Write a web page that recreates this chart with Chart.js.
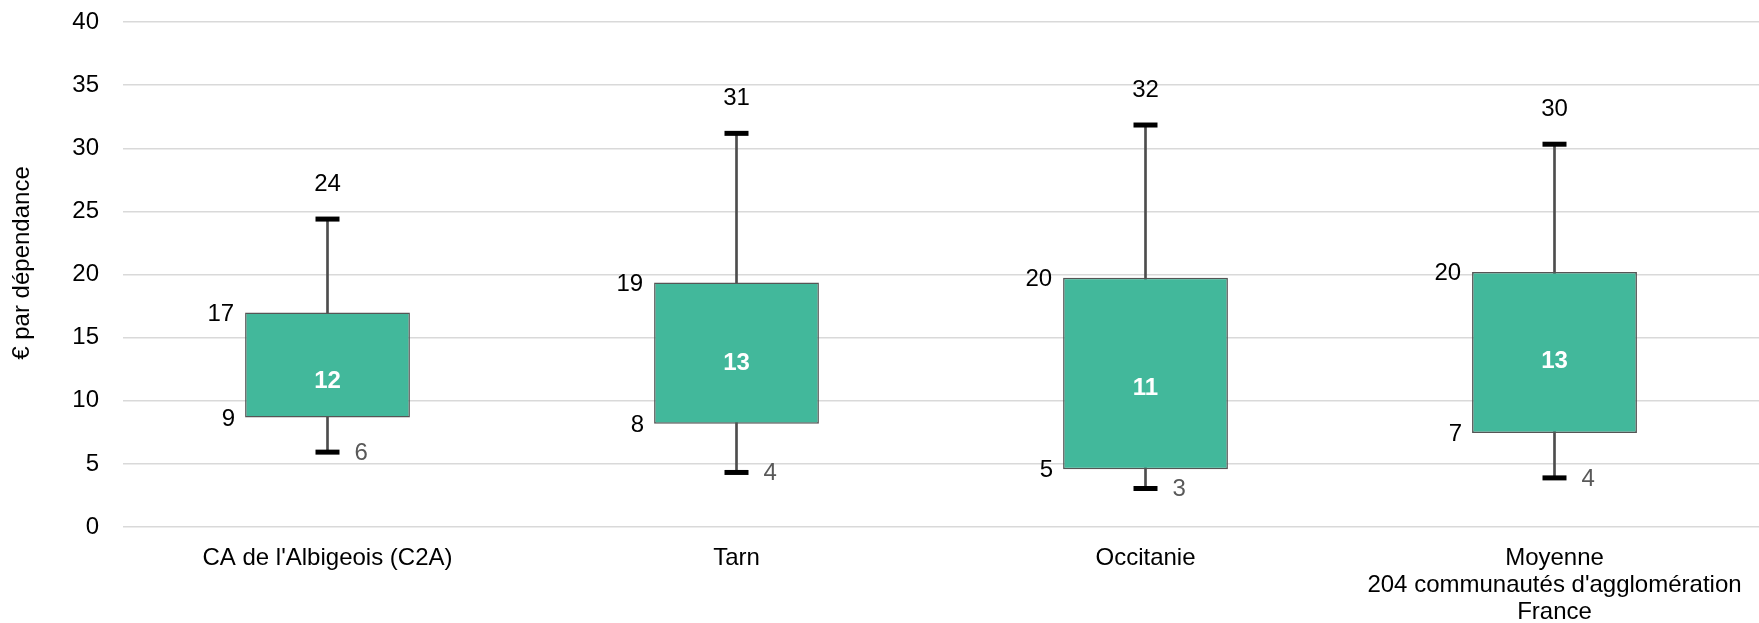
<!DOCTYPE html>
<html>
<head>
<meta charset="utf-8">
<script src="https://cdn.jsdelivr.net/npm/chart.js@4.4.1/dist/chart.umd.min.js"></script>
<style>
  html, body { margin: 0; padding: 0; background: #ffffff; }
  #wrap { width: 1759px; height: 623px; }
</style>
</head>
<body>
<div id="wrap"><canvas id="chart" width="1759" height="623"></canvas></div>
<script>
// Territories compared (multi-line labels as arrays)
const categories = [
  ["CA de l'Albigeois (C2A)"],
  ["Tarn"],
  ["Occitanie"],
  ["Moyenne", "204 communautés d'agglomération", "France"]
];

// Distribution of the amount per dependency (€)
const minValues    = [5.93, 4.32, 3.05, 3.89];
const q1Values     = [8.68, 8.17, 4.58, 7.45];
const medianValues = [11.5, 13.0, 10.97, 13.1];
const q3Values     = [17.0, 19.37, 19.74, 20.2];
const maxValues    = [24.39, 31.18, 31.84, 30.32];

// Value axis
const yMin = 0;
const yMax = 40;
const yStep = 5;
const yTitle = "€ par dépendance";

const FONT = '"Liberation Sans", Arial, Helvetica, sans-serif';
Chart.defaults.font.family = FONT;
Chart.defaults.font.size = 24;
Chart.defaults.color = '#000000';

// Whisker = thin floating bar from min to max, drawn behind the box
const whiskerData = categories.map((_, i) => [minValues[i], maxValues[i]]);
// Box = floating bar from Q1 to Q3
const boxData = categories.map((_, i) => [q1Values[i], q3Values[i]]);

const fmt = v => String(Math.round(v));

// Value labels around each box
const valueLabels = {
  id: 'valueLabels',
  afterDatasetsDraw(chart) {
    const { ctx } = chart;
    const x = chart.scales.x;
    const y = chart.scales.y;
    const boxMeta = chart.getDatasetMeta(1);
    ctx.save();
    ctx.textBaseline = 'middle';
    categories.forEach((_, i) => {
      const cx = x.getPixelForValue(i);
      const bar = boxMeta.data[i];
      const left = bar.x - bar.width / 2;

      ctx.font = '24px ' + FONT;
      ctx.fillStyle = '#000000';
      // maximum, above the upper cap
      ctx.textAlign = 'center';
      ctx.fillText(fmt(maxValues[i]), cx, y.getPixelForValue(maxValues[i]) - 35);
      // quartiles, left of the box
      ctx.textAlign = 'right';
      ctx.fillText(fmt(q3Values[i]), left - 11, y.getPixelForValue(q3Values[i]) + 1.5);
      ctx.fillText(fmt(q1Values[i]), left - 10, y.getPixelForValue(q1Values[i]) + 1.5);
      // minimum, right of the lower cap
      ctx.fillStyle = '#595959';
      ctx.textAlign = 'left';
      ctx.fillText(fmt(minValues[i]), cx + 27, y.getPixelForValue(minValues[i]) + 1);
      // median, inside the box
      ctx.font = 'bold 24px ' + FONT;
      ctx.fillStyle = '#ffffff';
      ctx.textAlign = 'center';
      ctx.fillText(fmt(medianValues[i]), cx, y.getPixelForValue(medianValues[i]));
    });
    ctx.restore();
  }
};

// Rotated value-axis title
const axisTitle = {
  id: 'axisTitle',
  afterDraw(chart) {
    const { ctx } = chart;
    ctx.save();
    ctx.translate(22, 263);
    ctx.rotate(-Math.PI / 2);
    ctx.font = '24px ' + FONT;
    ctx.fillStyle = '#000000';
    ctx.textAlign = 'center';
    ctx.textBaseline = 'middle';
    ctx.fillText(yTitle, 0, 0);
    ctx.restore();
  }
};

new Chart(document.getElementById('chart'), {
  type: 'bar',
  data: {
    labels: categories,
    datasets: [
      {
        type: 'bar',
        data: whiskerData,
        backgroundColor: '#4d4d4d',
        borderWidth: 0,
        barThickness: 2,
        grouped: false,
        order: 3
      },
      {
        type: 'bar',
        data: boxData,
        backgroundColor: '#42B89B',
        borderColor: '#555555',
        borderWidth: 1.5,
        borderSkipped: false,
        barPercentage: 0.403,
        categoryPercentage: 1,
        grouped: false,
        order: 2
      },
      {
        type: 'line',
        data: maxValues,
        showLine: false,
        pointStyle: 'line',
        pointRadius: 12,
        pointHoverRadius: 12,
        pointBorderWidth: 5,
        pointBorderColor: '#000000',
        pointBackgroundColor: '#000000',
        order: 1
      },
      {
        type: 'line',
        data: minValues,
        showLine: false,
        pointStyle: 'line',
        pointRadius: 12,
        pointHoverRadius: 12,
        pointBorderWidth: 5,
        pointBorderColor: '#000000',
        pointBackgroundColor: '#000000',
        order: 1
      }
    ]
  },
  options: {
    responsive: false,
    devicePixelRatio: 1,
    animation: false,
    events: [],
    layout: { autoPadding: false, padding: { top: 22, left: 0, right: -5, bottom: 0 } },
    plugins: {
      legend: { display: false },
      tooltip: { enabled: false },
      title: { display: false }
    },
    scales: {
      x: {
        offset: true,
        grid: { display: false, drawTicks: false },
        border: { display: false },
        ticks: {
          padding: 18,
          color: '#000000',
          font: { size: 24, lineHeight: 1.125 },
          maxRotation: 0,
          autoSkip: false
        },
        afterFit(scale) {
          scale.height = 96;
          scale.paddingLeft = 0;
          scale.paddingRight = 0;
        }
      },
      y: {
        min: yMin,
        max: yMax,
        grid: { color: '#d9d9d9', lineWidth: 1.5, drawTicks: false },
        border: { display: false },
        ticks: {
          stepSize: yStep,
          padding: 24,
          color: '#000000',
          font: { size: 24 }
        },
        afterFit(scale) {
          scale.width = 123;
          scale.paddingTop = 0;
          scale.paddingBottom = 0;
        }
      }
    }
  },
  plugins: [valueLabels, axisTitle]
});
</script>
</body>
</html>
